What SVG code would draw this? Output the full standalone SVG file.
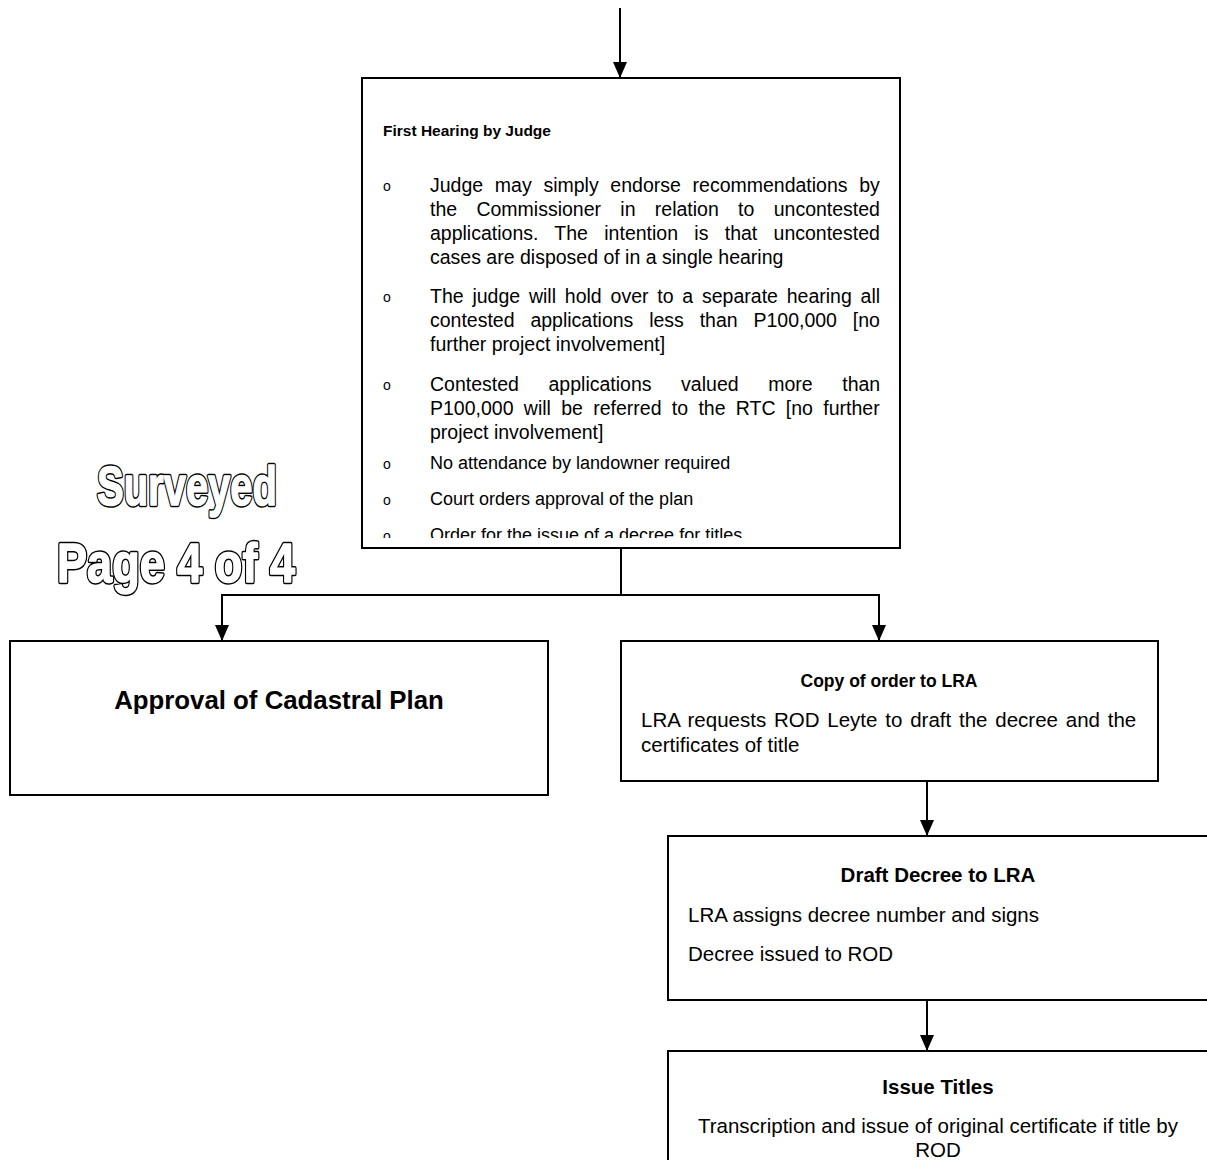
<svg xmlns="http://www.w3.org/2000/svg" width="1207" height="1160" viewBox="0 0 1207 1160">
  <style>
    .box { fill: #fff; stroke: #000; stroke-width: 2; }
    .wire { fill: none; stroke: #000; stroke-width: 2; }
    .t { font-family: "Liberation Sans", Arial, sans-serif; font-size: 20.5px; fill: #000; }
    .m { font-size: 19.5px; }
    .b { font-weight: bold; }
    .s { font-size: 18px; }
    .h { font-size: 15.5px; }
    .bul { font-size: 14px; }
    .stamp { font-family: "Liberation Sans", Arial, sans-serif; font-weight: bold; font-size: 56px; stroke-linejoin: round; }
    .stamp-edge { fill: #000; stroke: #000; stroke-width: 4.5; }
    .stamp-face { fill: #fff; stroke: #fff; stroke-width: 1.5; }
  </style>
  <defs>
    <marker id="arrow" viewBox="0 0 16 14" refX="16" refY="7" markerWidth="16" markerHeight="14" markerUnits="userSpaceOnUse" orient="auto">
      <path d="M0,0 L16,7 L0,14 Z" fill="#000"/>
    </marker>
    <clipPath id="clipHearing">
      <rect x="362" y="78" width="538" height="460"/>
    </clipPath>
  </defs>

  <!-- page stamp: outlined lettering (black edge underneath, white face on top) -->
  <g id="stamp">
    <text class="stamp stamp-edge" x="97" y="505" textLength="180" lengthAdjust="spacingAndGlyphs">Surveyed</text>
    <text class="stamp stamp-face" x="97" y="505" textLength="180" lengthAdjust="spacingAndGlyphs">Surveyed</text>
    <text class="stamp stamp-edge" x="57" y="582" textLength="238" lengthAdjust="spacingAndGlyphs">Page 4 of 4</text>
    <text class="stamp stamp-face" x="57" y="582" textLength="238" lengthAdjust="spacingAndGlyphs">Page 4 of 4</text>
  </g>

  <!-- connectors -->
  <g id="connectors">
    <line class="wire" x1="620" y1="8" x2="620" y2="78" marker-end="url(#arrow)"/>
    <polyline class="wire" points="621,548 621,595 222,595 222,641" marker-end="url(#arrow)"/>
    <polyline class="wire" points="621,595 879,595 879,641" marker-end="url(#arrow)"/>
    <line class="wire" x1="927" y1="781" x2="927" y2="836" marker-end="url(#arrow)"/>
    <line class="wire" x1="927" y1="1000" x2="927" y2="1051" marker-end="url(#arrow)"/>
  </g>

  <!-- First hearing -->
  <g id="node-first-hearing">
    <rect class="box" x="362" y="78" width="538" height="470"/>
    <g clip-path="url(#clipHearing)">
      <text class="t b h" x="383" y="136">First Hearing by Judge</text>

      <text class="t m" y="192"><tspan class="bul" x="383" dy="-1">o</tspan><tspan x="430" dy="1" word-spacing="6.3">Judge may simply endorse recommendations by</tspan></text>
      <text class="t m" x="430" y="216" word-spacing="13.9">the Commissioner in relation to uncontested</text>
      <text class="t m" x="430" y="240" word-spacing="10.9">applications. The intention is that uncontested</text>
      <text class="t m" x="430" y="264">cases are disposed of in a single hearing</text>

      <text class="t m" y="303"><tspan class="bul" x="383" dy="-1">o</tspan><tspan x="430" dy="1" word-spacing="3.4">The judge will hold over to a separate hearing all</tspan></text>
      <text class="t m" x="430" y="327" word-spacing="10.4">contested applications less than P100,000 [no</text>
      <text class="t m" x="430" y="351">further project involvement]</text>

      <text class="t m" y="391"><tspan class="bul" x="383" dy="-1">o</tspan><tspan x="430" dy="1" word-spacing="24.2">Contested applications valued more than</tspan></text>
      <text class="t m" x="430" y="415" word-spacing="4.9">P100,000 will be referred to the RTC [no further</text>
      <text class="t m" x="430" y="439">project involvement]</text>

      <text class="t s" y="469"><tspan class="bul" x="383">o</tspan><tspan x="430">No attendance by landowner required</tspan></text>
      <text class="t s" y="505"><tspan class="bul" x="383">o</tspan><tspan x="430">Court orders approval of the plan</tspan></text>
      <text class="t s" y="541"><tspan class="bul" x="383">o</tspan><tspan x="430">Order for the issue of a decree for titles</tspan></text>
    </g>
  </g>

  <!-- Approval -->
  <g id="node-approval">
    <rect class="box" x="10" y="641" width="538" height="154"/>
    <text class="t b" x="279" y="709" style="font-size:25.8px" text-anchor="middle">Approval of Cadastral Plan</text>
  </g>

  <!-- Copy of order -->
  <g id="node-copy-order">
    <rect class="box" x="621" y="641" width="537" height="140"/>
    <text class="t b" x="889" y="687" style="font-size:17.5px" text-anchor="middle">Copy of order to LRA</text>
    <text class="t" x="641" y="727" word-spacing="2.1">LRA requests ROD Leyte to draft the decree and the</text>
    <text class="t" x="641" y="752">certificates of title</text>
  </g>

  <!-- Draft decree -->
  <g id="node-draft-decree">
    <rect class="box" x="668" y="836" width="545" height="164"/>
    <text class="t b" x="938" y="882" text-anchor="middle">Draft Decree to LRA</text>
    <text class="t" x="688" y="922">LRA assigns decree number and signs</text>
    <text class="t" x="688" y="961">Decree issued to ROD</text>
  </g>

  <!-- Issue titles -->
  <g id="node-issue-titles">
    <rect class="box" x="668" y="1051" width="545" height="120"/>
    <text class="t b" x="938" y="1094" text-anchor="middle">Issue Titles</text>
    <text class="t" x="938" y="1133" text-anchor="middle">Transcription and issue of original certificate if title by</text>
    <text class="t" x="938" y="1157" text-anchor="middle">ROD</text>
  </g>
</svg>
